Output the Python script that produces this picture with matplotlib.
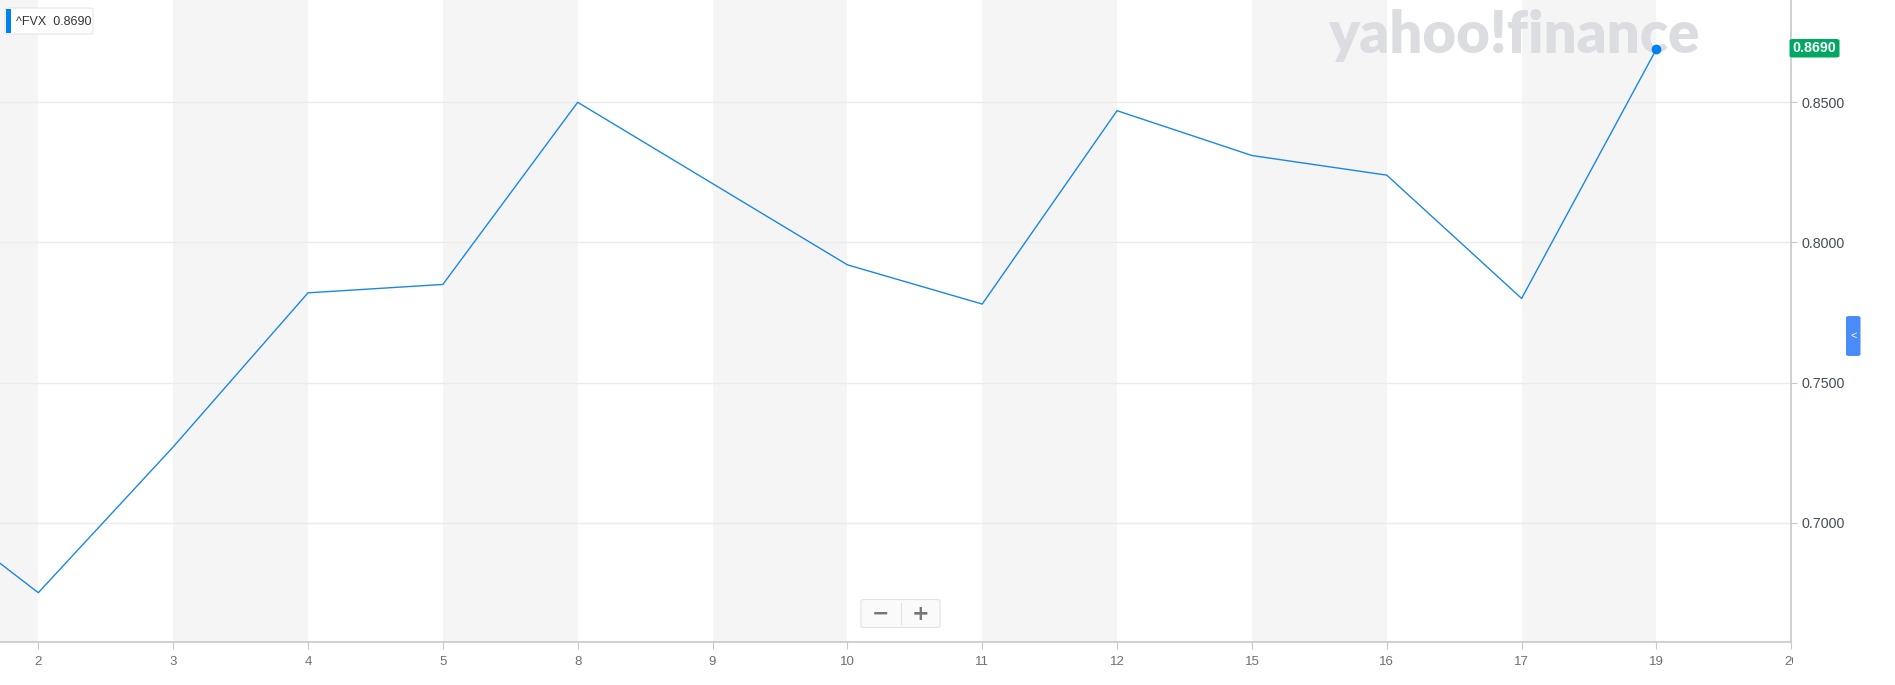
import numpy as np
import matplotlib
matplotlib.use("Agg")
import matplotlib.pyplot as plt
from matplotlib.patches import FancyBboxPatch, Rectangle
from matplotlib.transforms import Bbox, TransformedBbox

plt.rcParams['font.family'] = ['Liberation Sans', 'DejaVu Sans']

# ^FVX closes, one per trading day; first value is the day before the visible window
day_labels = ["2", "3", "4", "5", "8", "9", "10", "11", "12", "15", "16", "17", "19", "20"]
prev_close = 0.712
fvx = [0.675, 0.727, 0.782, 0.785, 0.850, 0.821, 0.792, 0.778, 0.847, 0.831, 0.824, 0.780, 0.869]
last_value = "0.8690"
y_ticks = [0.70, 0.75, 0.80, 0.85]

W, H = 1895, 685
LINE = "#1a88e2"

def fx(px):
    return px / W

def fy(py):
    return 1 - py / H

fig = plt.figure(figsize=(W / 100, H / 100), dpi=100)
ax = fig.add_axes([0, fy(642.3), fx(1791.3), 1 - fy(642.3)])

# alternating day bands
for i in range(-1, len(day_labels) - 1, 2):
    ax.axvspan(i, i + 1, color="#f5f5f5", lw=0, zorder=0)

# watermark sits under the line
ax.text(fx(1328), fy(53), "yahoo!finance", fontsize=41.8, fontweight="heavy",
        family="Lato", color="#dcdde1", va="baseline", ha="left", zorder=2,
        transform=fig.transFigure)

xs = np.arange(-1, len(fvx))
ys = [prev_close] + fvx
ax.plot(xs, ys, color=LINE, lw=1.0, zorder=3)
ax.plot(xs[-1], ys[-1], "o", color="#0081f2", ms=6, zorder=4, clip_on=False)

ax.set_xlim(-0.284, len(day_labels) - 1)
ax.set_ylim(0.6573, 0.8865)

ax.set_xticks(range(len(day_labels)))
ax.set_xticklabels(day_labels)
ax.set_yticks(y_ticks)
ax.set_yticklabels(["%.4f" % v for v in y_ticks])
ax.yaxis.tick_right()
ax.yaxis.grid(True, color="#ebebeb", lw=1)
ax.set_axisbelow(True)

ax.tick_params(axis="x", length=5, width=0.8, color="#c8c8c8", labelsize=9.5,
               labelcolor="#6f6f6f", pad=5)
ax.tick_params(axis="y", length=4, width=0.8, color="#c8c8c8", labelsize=10.3,
               labelcolor="#464e56", pad=3)

for s in ["top", "left"]:
    ax.spines[s].set_visible(False)
for s in ["bottom", "right"]:
    ax.spines[s].set_color("#c8c8c8")
    ax.spines[s].set_linewidth(1.2)

# last x label is cut by the right axis line
clip = TransformedBbox(Bbox([[0, 0], [fx(1793), 1]]), fig.transFigure)
lab = ax.xaxis.get_major_ticks()[-1].label1
lab.set_clip_box(clip)
lab.set_clip_on(True)

# legend chip
fig.patches.append(FancyBboxPatch((fx(5), fy(34)), fx(88), 26 / H,
                                  boxstyle="round,pad=0,rounding_size=0.002",
                                  transform=fig.transFigure, facecolor="white",
                                  edgecolor="#e6e6e6", lw=0.8, zorder=5))
fig.patches.append(Rectangle((fx(6), fy(33)), fx(4.5), 24 / H, transform=fig.transFigure,
                             facecolor="#0081f2", edgecolor="none", zorder=6))
fig.text(fx(16), fy(22), "^FVX  " + last_value, fontsize=9, color="#333333",
         va="center", ha="left", zorder=7)

# current value tag on the price axis
fig.patches.append(FancyBboxPatch((fx(1789.5), fy(57.5)), fx(50), 18.5 / H,
                                  boxstyle="round,pad=0,rounding_size=0.002",
                                  transform=fig.transFigure, facecolor="#00a862",
                                  edgecolor="none", zorder=5))
fig.text(fx(1814.5), fy(48.5), last_value, fontsize=10.3, fontweight="bold", color="white",
         va="center", ha="center", zorder=6)

# zoom buttons
fig.patches.append(FancyBboxPatch((fx(861), fy(627.5)), fx(79), 28 / H,
                                  boxstyle="round,pad=0,rounding_size=0.002",
                                  transform=fig.transFigure, facecolor="#fafafa",
                                  edgecolor="#e2e2e2", lw=0.8, zorder=5))
fig.add_artist(plt.Line2D([fx(900.5), fx(900.5)], [fy(603), fy(624)],
                          transform=fig.transFigure, color="#e2e2e2", lw=0.8, zorder=6))
fig.text(fx(881), fy(614), "\u2212", fontsize=15, fontweight="bold", color="#777777",
         va="center", ha="center", family="DejaVu Sans", zorder=6)
fig.text(fx(921), fy(614), "+", fontsize=15, fontweight="bold", color="#777777",
         va="center", ha="center", family="DejaVu Sans", zorder=6)

# side panel tab
fig.patches.append(FancyBboxPatch((fx(1846), fy(356)), fx(14.5), 40 / H,
                                  boxstyle="round,pad=0,rounding_size=0.002",
                                  transform=fig.transFigure, facecolor="#4a8cf7",
                                  edgecolor="none", zorder=5))
fig.text(fx(1853.5), fy(336), "<", fontsize=8, color="white",
         va="center", ha="center", zorder=6)

fig.savefig("out.png", dpi=100, facecolor="white")
